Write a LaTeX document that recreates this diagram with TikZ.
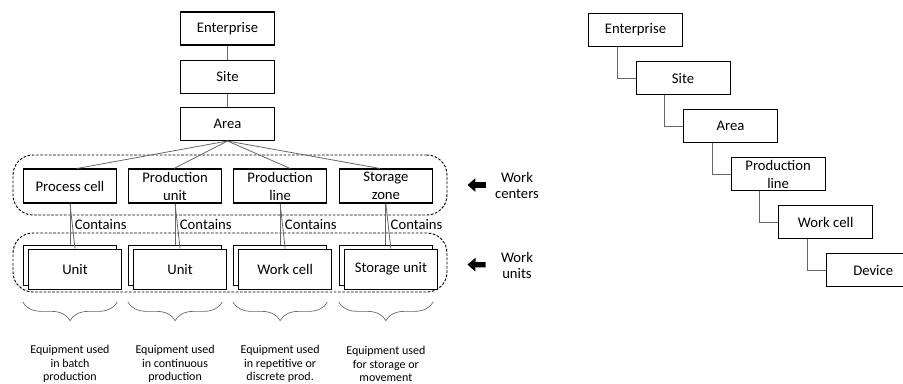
\documentclass[tikz,border=0pt]{standalone}
\usepackage{fontspec}
\setmainfont{Carlito}
\usepackage{tikz}
\usetikzlibrary{positioning}
\usetikzlibrary{arrows.meta,decorations.pathreplacing}
\tikzset{link/.style = {draw=black!60, line width=0.6pt}}
\tikzset{bigarrow/.style = {-{Triangle[length=6pt,width=10pt]}, line width=4pt}}

\begin{document}
\begin{tikzpicture}[x=0.75pt,y=-0.75pt,
    box/.style={rectangle,draw,line width=0.8pt,fill=white,minimum width=70pt,minimum height=24.75pt,inner sep=1pt,align=center,font=\fontsize{11}{13.5}\selectfont},
    unit/.style={minimum width=69.75pt,minimum height=30pt},
    group/.style={draw,dash pattern=on 2pt off 1.2pt,line width=0.7pt,rounded corners=15pt,minimum width=325.5pt,inner sep=0pt},
    note/.style={align=center,font=\fontsize{11}{12}\selectfont},
    eqtext/.style={align=center,font=\fontsize{9}{10.1}\selectfont},
    brc/.style={draw=black!60,line width=0.5pt,decorate,decoration={brace,mirror,amplitude=14pt}}]
    \useasboundingbox (0,0) rectangle (903,383);

    % left hierarchy
    \node[box] (ent) at (227.5,28.5) {Enterprise};
    \node[box] (site) [below=10.5pt of ent] {Site};
    \node[box] (area) [below=10pt of site] {Area};
    \draw[link] (ent) -- (site);
    \draw[link] (site) -- (area);

    \node[group,minimum height=45pt] (wcg) at (230,185) {};
    \node[group,minimum height=44.25pt] (wug) at (230,262.5) {};

    \node[box,minimum height=25.5pt] (pc) at (70,186) {Process cell};
    \node[box,minimum height=25.5pt] (pu) [right=8pt of pc] {Production\\unit};
    \node[box,minimum height=25.5pt] (pl) [right=8pt of pu] {Production\\line};
    \node[box,minimum height=25.5pt] (sz) [right=8.5pt of pl] {Storage\\zone};

    \foreach \n/\s in {pc/7, pu/-1, pl/10, sz/-6}
        \draw[link] (area.south) -- ([xshift=\s*0.75pt]\n.north);

    \foreach \n/\t in {pc/Unit, pu/Unit, pl/Work cell, sz/Storage unit} {
        \node[box,unit] (\n-b) [below=30.75pt of \n] {};
        \node[box,unit] (\n-f) at ([shift={(5,4)}]\n-b) {\t};
        \draw[link] (\n.south) -- (\n-b.north) node[midway,right,font=\fontsize{11}{13.5}\selectfont] {Contains};
        \draw[link] (\n.south) -- (\n-f.north);
    }

    % braces and equipment notes
    \foreach \n/\t in {pc/{in batch\\production}, pu/{in continuous\\production},
                       pl/{in repetitive or\\discrete prod.}, sz/{for storage or\\movement}} {
        \draw[brc] (\n.west |- 0,302) -- (\n.east |- 0,302);
        \node[eqtext] (\n-eq) at (\n |- 0,364) {Equipment used\\\t};
    }

    % side labels
    \node[note] (wcl) at (517,185) {Work\\centers};
    \node[note] (wul) at (517,265) {Work\\units};
    \draw[bigarrow, shorten <=3pt, shorten >=15pt] (wcl) -- (wcg);
    \draw[bigarrow, shorten <=8pt, shorten >=15pt] (wul) -- (wug);

    % right staircase
    \node[box,minimum width=70.5pt,anchor=north west] (rent) at (588,13) {Enterprise};
    \node[box,minimum width=70.5pt] (rsite) [below=10.5pt of rent.south, anchor=north west] {Site};
    \node[box,minimum width=70.5pt] (rarea) [below=10.5pt of rsite.south, anchor=north west] {Area};
    \node[box,minimum width=70.5pt] (rline) [below=10.5pt of rarea.south, anchor=north west] {Production\\line};
    \node[box,minimum width=70.5pt] (rcell) [below=10.5pt of rline.south, anchor=north west] {Work cell};
    \node[box,minimum width=70.5pt] (rdev) [below=10.5pt of rcell.south, anchor=north west] {Device};

    \draw[link] ([xshift=21.75pt]rent.south west) |- (rsite.west);
    \draw[link] ([xshift=21.75pt]rsite.south west) |- (rarea.west);
    \draw[link] ([xshift=21.75pt]rarea.south west) |- (rline.west);
    \draw[link] ([xshift=21.75pt]rline.south west) |- (rcell.west);
    \draw[link] ([xshift=21.75pt]rcell.south west) |- (rdev.west);
\end{tikzpicture}
\end{document}
